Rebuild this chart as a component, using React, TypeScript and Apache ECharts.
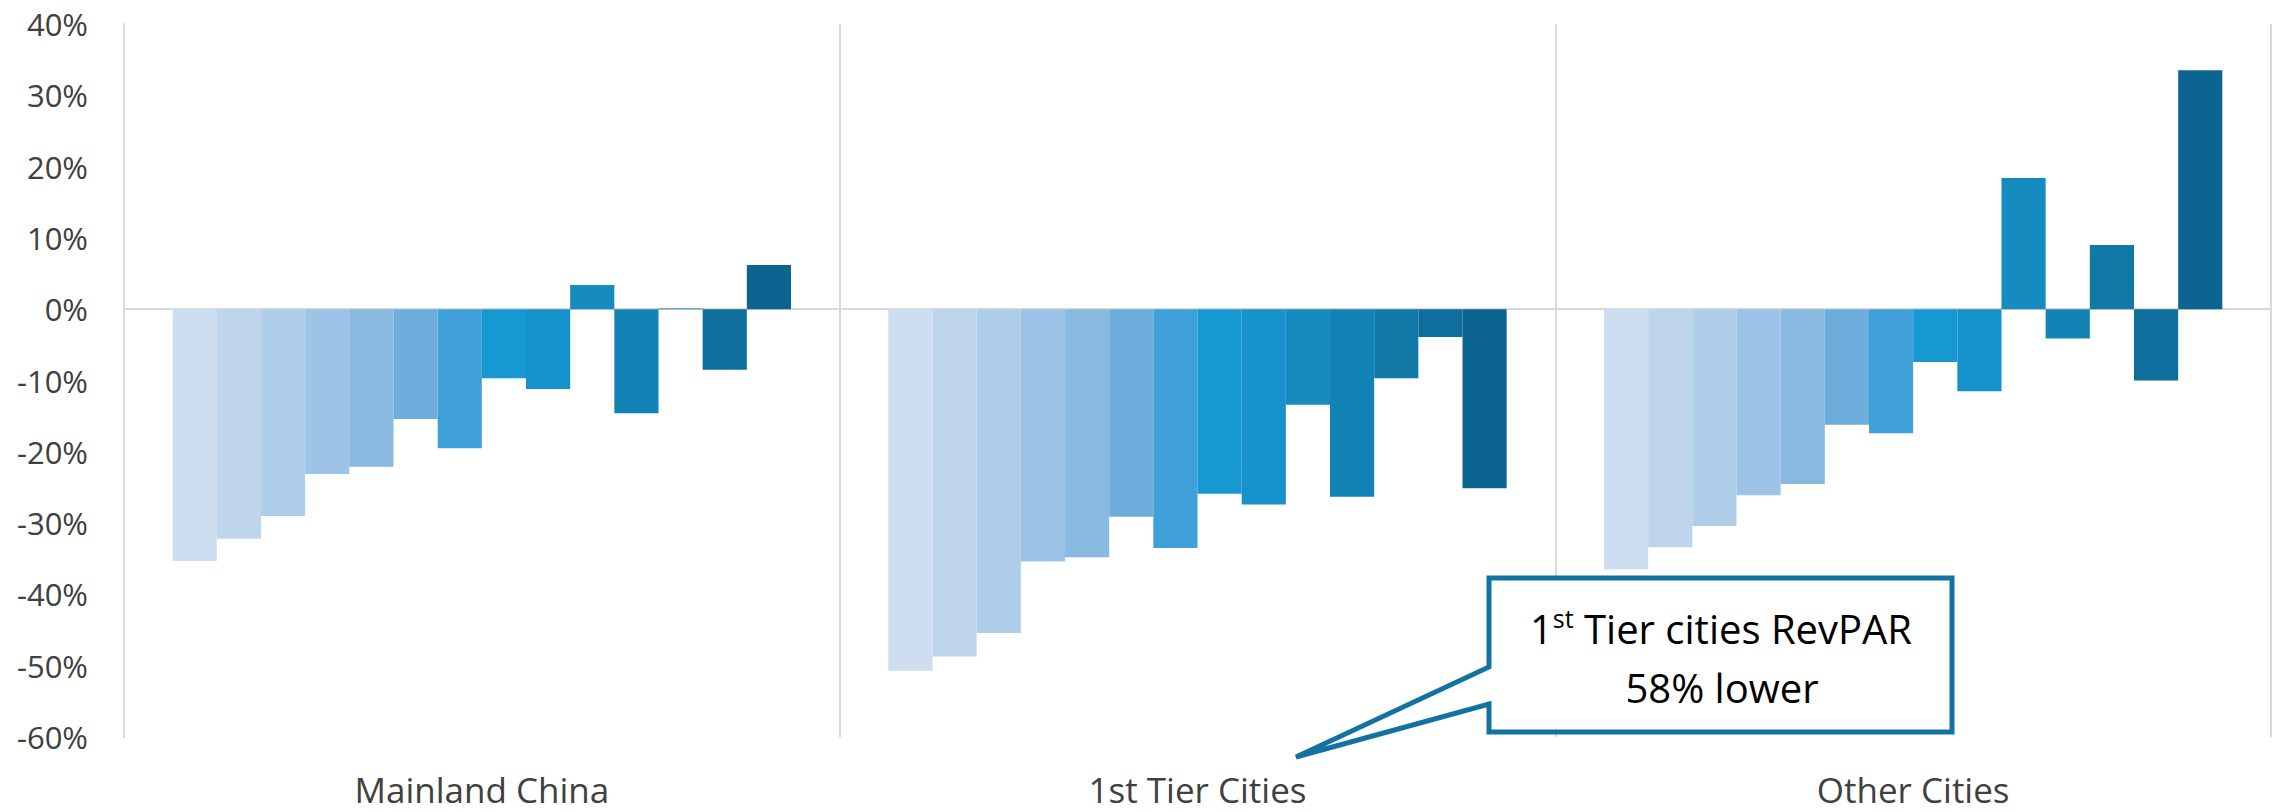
import React, { useEffect, useRef } from "react";
import * as echarts from "echarts";

const categories = ["Mainland China", "1st Tier Cities", "Other Cities"];

// 14 bars per category (percent change)
const mainlandChina = [-35.3, -32.2, -29.0, -23.1, -22.1, -15.4, -19.5, -9.7, -11.2, 3.4, -14.6, 0.1, -8.5, 6.2];
const firstTierCities = [-50.7, -48.7, -45.4, -35.4, -34.8, -29.1, -33.5, -25.9, -27.4, -13.4, -26.3, -9.7, -3.9, -25.1];
const otherCities = [-36.5, -33.4, -30.4, -26.1, -24.5, -16.2, -17.4, -7.4, -11.5, 18.4, -4.1, 9.0, -10.0, 33.5];

const barColors = [
  "#CDDEF0", "#BED5EC", "#AECDE8", "#9DC3E6", "#88B9E1", "#6DADDC", "#40A0DA",
  "#1898D2", "#1592CB", "#168BBF", "#1382B5", "#1179A8", "#0E6F9D", "#0C6590",
];

const yTicks = [-60, -50, -40, -30, -20, -10, 0, 10, 20, 30, 40];

const calloutLine1 = "1st Tier cities RevPAR";
const calloutLine2 = "58% lower";

export default function App() {
  const ref = useRef<HTMLDivElement>(null);

  useEffect(() => {
    document.body.style.margin = "0";
    if (!ref.current) return;
    const chart = echarts.init(ref.current, null, { renderer: "svg" });

    const series = barColors.map((color, i) => ({
      name: `Series ${i + 1}`,
      type: "bar",
      data: [mainlandChina[i], firstTierCities[i], otherCities[i]],
      itemStyle: { color },
      barGap: "0%",
      barCategoryGap: "13.6%",
      silent: true,
    }));

    const splitColors = yTicks.map((t) => (t === 0 ? "#D9D9D9" : "rgba(0,0,0,0)"));

    const font = "'Open Sans', 'Noto Sans', sans-serif";
    const calloutFont = "'Open Sans', 'Noto Sans', sans-serif";

    chart.setOption({
      animation: false,
      backgroundColor: "#ffffff",
      grid: { left: 124, right: 9, top: 24, bottom: 75, containLabel: false },
      xAxis: {
        type: "category",
        data: categories,
        axisLine: { show: false },
        axisTick: { show: false },
        axisLabel: { fontSize: 35, lineHeight: 38, color: "#404040", fontFamily: font, margin: 33 },
        splitLine: { show: true, lineStyle: { color: "#D9D9D9", width: 2 } },
      },
      yAxis: {
        type: "value",
        min: -60,
        max: 40,
        interval: 10,
        axisLine: { show: true, lineStyle: { color: "#D9D9D9", width: 2 } },
        axisTick: { show: false },
        axisLabel: { formatter: "{value}%", fontSize: 31, color: "#404040", fontFamily: font, margin: 36 },
        splitLine: { show: true, lineStyle: { color: splitColors, width: 2 } },
      },
      series,
      graphic: [
        {
          type: "polygon",
          z: 100,
          shape: {
            points: [
              [1489, 578], [1952, 578], [1952, 732], [1489, 732],
              [1489, 704], [1296, 757], [1489, 667],
            ],
          },
          style: { fill: "#ffffff", stroke: "#1272A0", lineWidth: 5, lineJoin: "miter" },
        },
        {
          type: "text",
          z: 101,
          x: 1721,
          y: 628,
          style: {
            text: "{n|1}{s|st}{n|" + calloutLine1.slice(3) + "}",
            align: "center",
            verticalAlign: "middle",
            rich: {
              n: { fontSize: 40, lineHeight: 46, fontFamily: calloutFont, fill: "#000000" },
              s: { fontSize: 25, lineHeight: 46, fontFamily: calloutFont, fill: "#000000", verticalAlign: "top" },
            },
          },
        },
        {
          type: "text",
          z: 101,
          x: 1722,
          y: 687,
          style: {
            text: calloutLine2,
            align: "center",
            verticalAlign: "middle",
            fontSize: 40,
            fontFamily: calloutFont,
            fill: "#000000",
          },
        },
      ],
    });

    return () => chart.dispose();
  }, []);

  return <div ref={ref} style={{ width: 2280, height: 812 }} />;
}
